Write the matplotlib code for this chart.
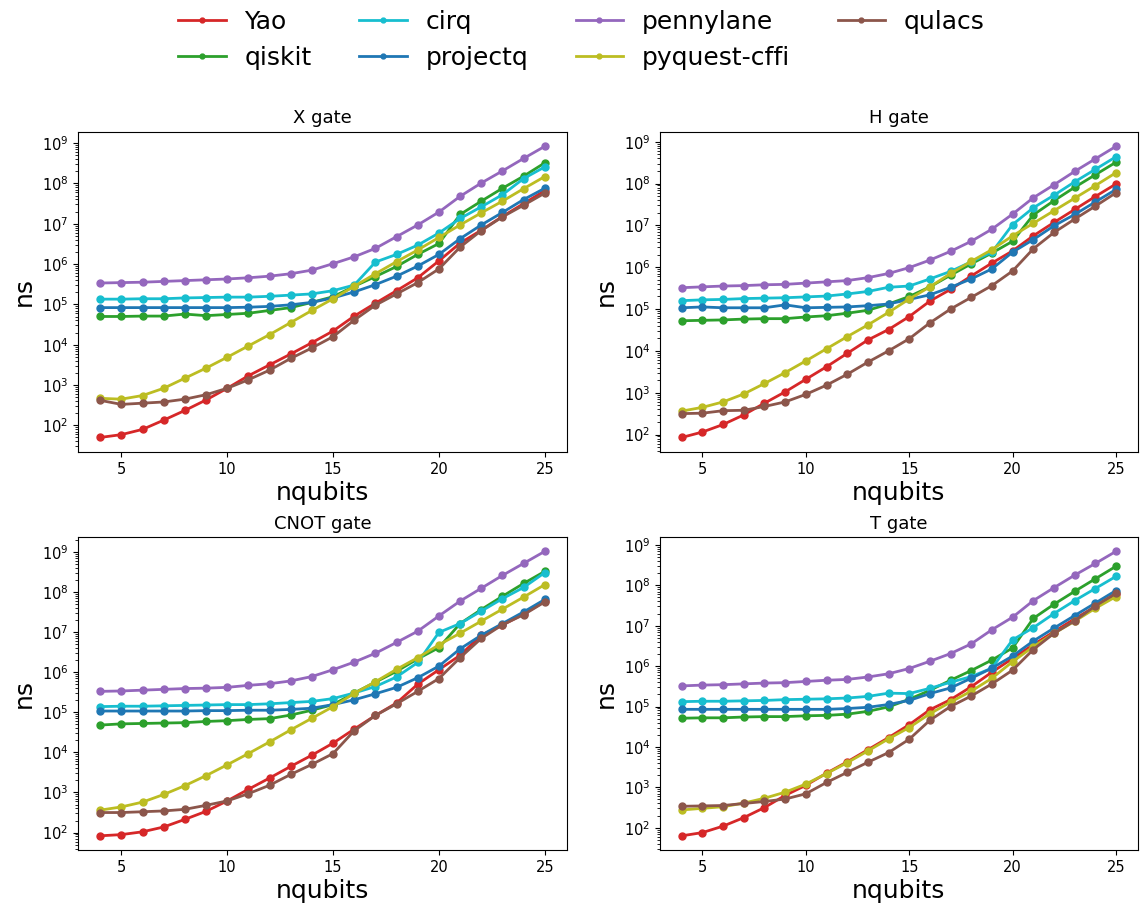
import numpy as np
import matplotlib
matplotlib.use("Agg")
import matplotlib.pyplot as plt

# values as log10(ns)
nqubits = list(range(4, 26))
packages = ["Yao", "qiskit", "cirq", "projectq", "pennylane", "pyquest-cffi", "qulacs"]
colors = ["tab:red", "tab:green", "tab:cyan", "tab:blue", "tab:purple", "tab:olive", "tab:brown"]
gates = ["X gate", "H gate", "CNOT gate", "T gate"]

x_yao = [1.70, 1.77, 1.90, 2.13, 2.37, 2.63, 2.92, 3.23, 3.50, 3.77, 4.05, 4.34, 4.71, 5.03, 5.34, 5.66, 6.08, 6.52, 6.84, 7.18, 7.50, 7.82]
x_qiskit = [4.70, 4.70, 4.71, 4.71, 4.76, 4.72, 4.75, 4.78, 4.85, 4.92, 5.05, 5.19, 5.45, 5.69, 5.94, 6.24, 6.51, 7.23, 7.56, 7.88, 8.18, 8.51]
x_cirq = [5.13, 5.13, 5.14, 5.14, 5.16, 5.17, 5.18, 5.18, 5.20, 5.23, 5.26, 5.34, 5.48, 6.05, 6.24, 6.47, 6.77, 7.13, 7.42, 7.72, 8.12, 8.41]
x_projectq = [4.92, 4.92, 4.92, 4.92, 4.92, 4.92, 4.92, 4.93, 4.95, 4.99, 5.05, 5.16, 5.31, 5.49, 5.70, 5.95, 6.24, 6.63, 6.97, 7.28, 7.60, 7.88]
x_pennylane = [5.53, 5.54, 5.55, 5.57, 5.59, 5.61, 5.63, 5.66, 5.70, 5.76, 5.85, 6.01, 6.18, 6.39, 6.68, 6.97, 7.29, 7.68, 8.01, 8.31, 8.62, 8.92]
x_pyquest = [2.67, 2.65, 2.74, 2.92, 3.17, 3.42, 3.69, 3.97, 4.25, 4.55, 4.85, 5.14, 5.45, 5.76, 6.06, 6.35, 6.66, 6.97, 7.27, 7.56, 7.87, 8.17]
x_qulacs = [2.62, 2.52, 2.55, 2.58, 2.65, 2.76, 2.92, 3.13, 3.37, 3.66, 3.92, 4.20, 4.61, 4.98, 5.26, 5.54, 5.88, 6.42, 6.83, 7.17, 7.46, 7.76]

h_yao = [1.93, 2.06, 2.24, 2.47, 2.75, 3.02, 3.32, 3.62, 3.94, 4.26, 4.51, 4.82, 5.19, 5.47, 5.79, 6.10, 6.39, 6.75, 7.07, 7.38, 7.69, 7.99]
h_qiskit = [4.72, 4.73, 4.74, 4.76, 4.77, 4.77, 4.81, 4.84, 4.90, 4.97, 5.12, 5.30, 5.53, 5.81, 6.08, 6.34, 6.62, 7.25, 7.59, 7.91, 8.21, 8.51]
h_cirq = [5.20, 5.22, 5.23, 5.25, 5.26, 5.27, 5.29, 5.31, 5.36, 5.42, 5.52, 5.55, 5.72, 5.90, 6.13, 6.36, 7.02, 7.42, 7.72, 8.04, 8.34, 8.64]
h_projectq = [5.03, 5.05, 5.03, 5.03, 5.03, 5.10, 5.03, 5.04, 5.05, 5.08, 5.12, 5.23, 5.34, 5.52, 5.72, 5.96, 6.36, 6.66, 6.99, 7.26, 7.56, 7.86]
h_pennylane = [5.51, 5.53, 5.55, 5.56, 5.58, 5.59, 5.62, 5.65, 5.68, 5.75, 5.85, 5.99, 6.17, 6.38, 6.62, 6.91, 7.27, 7.66, 7.97, 8.29, 8.59, 8.89]
h_pyquest = [2.56, 2.65, 2.78, 2.97, 3.22, 3.48, 3.76, 4.05, 4.34, 4.62, 4.92, 5.24, 5.53, 5.85, 6.14, 6.42, 6.75, 7.05, 7.35, 7.65, 7.95, 8.26]
h_qulacs = [2.50, 2.51, 2.57, 2.58, 2.67, 2.78, 2.96, 3.18, 3.44, 3.73, 4.00, 4.29, 4.67, 5.00, 5.28, 5.56, 5.91, 6.44, 6.83, 7.15, 7.46, 7.78]

cnot_yao = [1.92, 1.95, 2.02, 2.14, 2.33, 2.53, 2.79, 3.08, 3.36, 3.65, 3.93, 4.23, 4.58, 4.92, 5.23, 5.70, 6.06, 6.42, 6.92, 7.17, 7.45, 7.76]
cnot_qiskit = [4.68, 4.71, 4.72, 4.73, 4.74, 4.77, 4.79, 4.82, 4.84, 4.93, 5.05, 5.19, 5.48, 5.75, 6.02, 6.33, 6.61, 7.21, 7.56, 7.89, 8.21, 8.51]
cnot_cirq = [5.14, 5.15, 5.15, 5.16, 5.17, 5.18, 5.19, 5.19, 5.21, 5.24, 5.27, 5.34, 5.48, 5.64, 5.88, 6.24, 6.99, 7.21, 7.52, 7.83, 8.11, 8.48]
cnot_projectq = [5.03, 5.03, 5.03, 5.03, 5.03, 5.04, 5.04, 5.05, 5.05, 5.07, 5.10, 5.19, 5.31, 5.46, 5.62, 5.86, 6.15, 6.58, 6.92, 7.21, 7.50, 7.81]
cnot_pennylane = [5.52, 5.53, 5.55, 5.57, 5.59, 5.60, 5.62, 5.67, 5.71, 5.78, 5.89, 6.06, 6.25, 6.47, 6.74, 7.02, 7.40, 7.77, 8.09, 8.41, 8.71, 9.01]
cnot_pyquest = [2.56, 2.64, 2.76, 2.95, 3.17, 3.42, 3.69, 3.97, 4.26, 4.56, 4.85, 5.14, 5.47, 5.76, 6.07, 6.36, 6.68, 6.97, 7.27, 7.57, 7.87, 8.18]
cnot_qulacs = [2.50, 2.50, 2.52, 2.54, 2.58, 2.68, 2.79, 2.97, 3.18, 3.45, 3.70, 3.97, 4.54, 4.92, 5.21, 5.52, 5.84, 6.36, 6.84, 7.18, 7.43, 7.75]

t_yao = [1.80, 1.88, 2.04, 2.25, 2.50, 2.80, 3.05, 3.35, 3.63, 3.93, 4.23, 4.55, 4.92, 5.17, 5.49, 5.85, 6.19, 6.53, 6.85, 7.17, 7.47, 7.79]
t_qiskit = [4.71, 4.72, 4.72, 4.74, 4.75, 4.75, 4.77, 4.78, 4.81, 4.88, 4.99, 5.18, 5.40, 5.65, 5.89, 6.15, 6.45, 7.18, 7.53, 7.85, 8.16, 8.47]
t_cirq = [5.12, 5.13, 5.13, 5.14, 5.15, 5.17, 5.18, 5.19, 5.21, 5.25, 5.33, 5.32, 5.45, 5.60, 5.74, 5.95, 6.65, 6.95, 7.30, 7.62, 7.92, 8.22]
t_projectq = [4.93, 4.93, 4.93, 4.93, 4.93, 4.93, 4.93, 4.93, 4.95, 4.98, 5.05, 5.15, 5.32, 5.46, 5.70, 5.95, 6.25, 6.62, 6.94, 7.25, 7.56, 7.87]
t_pennylane = [5.51, 5.53, 5.54, 5.56, 5.58, 5.59, 5.62, 5.65, 5.67, 5.73, 5.81, 5.94, 6.12, 6.31, 6.55, 6.90, 7.21, 7.62, 7.94, 8.25, 8.54, 8.84]
t_pyquest = [2.44, 2.48, 2.52, 2.61, 2.73, 2.88, 3.08, 3.34, 3.61, 3.90, 4.20, 4.48, 4.82, 5.11, 5.38, 5.70, 6.11, 6.48, 6.81, 7.11, 7.43, 7.72]
t_qulacs = [2.53, 2.54, 2.55, 2.60, 2.65, 2.71, 2.84, 3.12, 3.37, 3.62, 3.86, 4.19, 4.66, 5.00, 5.26, 5.56, 5.90, 6.41, 6.81, 7.12, 7.49, 7.80]

data = {
    "X gate": [x_yao, x_qiskit, x_cirq, x_projectq, x_pennylane, x_pyquest, x_qulacs],
    "H gate": [h_yao, h_qiskit, h_cirq, h_projectq, h_pennylane, h_pyquest, h_qulacs],
    "CNOT gate": [cnot_yao, cnot_qiskit, cnot_cirq, cnot_projectq, cnot_pennylane, cnot_pyquest, cnot_qulacs],
    "T gate": [t_yao, t_qiskit, t_cirq, t_projectq, t_pennylane, t_pyquest, t_qulacs],
}

fig = plt.figure(figsize=(11.4, 9.15), dpi=100)
positions = [
    [0.0684, 0.506, 0.429, 0.350],
    [0.579, 0.506, 0.419, 0.350],
    [0.0684, 0.0710, 0.429, 0.342],
    [0.579, 0.0710, 0.419, 0.342],
]

handles = []
for gate, pos in zip(gates, positions):
    ax = fig.add_axes(pos)
    lines = []
    for name, color, vals in zip(packages, colors, data[gate]):
        ln, = ax.plot(nqubits, 10 ** np.array(vals), "-o", color=color,
                      label=name, lw=2, markersize=5)
        lines.append(ln)
    handles = lines
    ax.set_yscale("log")
    ax.set_title(gate, fontsize=13)
    ax.set_xlabel("nqubits", fontsize=18, labelpad=3)
    ax.set_ylabel("ns", fontsize=18)
    ax.tick_params(labelsize=10.5)

fig.legend(handles, packages, loc="upper center", bbox_to_anchor=(0.51, 1.014),
           ncol=4, fontsize=18, frameon=False, markerscale=0.7,
           columnspacing=1.9, handlelength=1.9, handletextpad=0.75)

fig.savefig("out.png", dpi=100)
